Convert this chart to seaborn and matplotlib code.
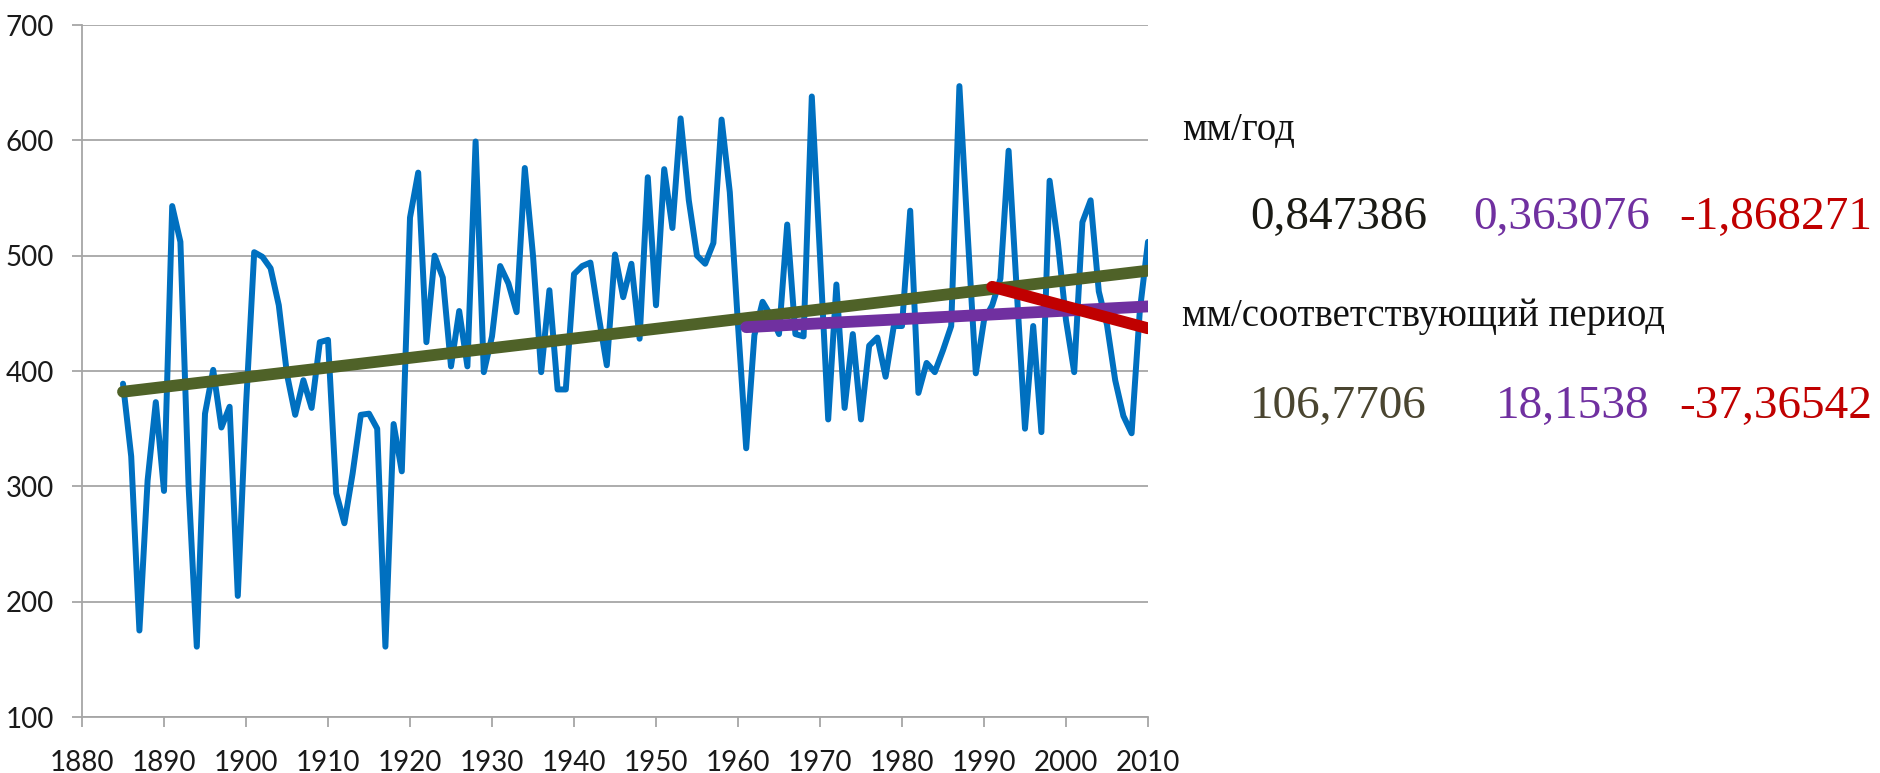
import numpy as np
import pandas as pd
import matplotlib
matplotlib.use("Agg")
import matplotlib.pyplot as plt
import seaborn as sns

# ---- data ----
years = list(range(1885, 2011))
precip = [
    389, 326, 175, 305, 373, 296, 543, 512, 300, 161,   # 1885-1894
    363, 401, 351, 369, 205, 370, 503, 499, 489, 457,   # 1895-1904
    397, 362, 392, 368, 425, 427, 294, 268, 311, 362,   # 1905-1914
    363, 350, 161, 354, 313, 533, 572, 425, 500, 481,   # 1915-1924
    404, 452, 404, 599, 399, 430, 491, 476, 451, 576,   # 1925-1934
    500, 399, 470, 384, 384, 484, 491, 494, 448, 405,   # 1935-1944
    501, 464, 493, 428, 568, 457, 575, 524, 619, 548,   # 1945-1954
    500, 493, 511, 618, 555, 440, 333, 431, 460, 448,   # 1955-1964
    432, 527, 432, 430, 638, 500, 358, 475, 368, 432,   # 1965-1974
    358, 422, 429, 395, 439, 439, 539, 381, 407, 399,   # 1975-1984
    418, 439, 647, 520, 398, 444, 457, 480, 591, 469,   # 1985-1994
    350, 439, 347, 565, 512, 444, 399, 529, 548, 469,   # 1995-2004
    440, 392, 361, 346, 452, 512,                       # 2005-2010
]

# linear trends (start year, end year, start value, end value)
trend_names = ["1885-2010", "1961-2010", "1991-2010"]
trend_start_years = [1885, 1961, 1991]
trend_end_years = [2010, 2010, 2010]
trend_start_vals = [382, 438, 473]
trend_end_vals = [487, 456, 437]

rate_labels = ["0,847386", "0,363076", "-1,868271"]
total_labels = ["106,7706", "18,1538", "-37,36542"]
header_rate = "мм/год"
header_total = "мм/соответствующий период"

x_ticks = list(range(1880, 2011, 10))
y_ticks = list(range(100, 701, 100))

# ---- styles ----
blue = "#0070C0"
trend_colors = ["#4F6228", "#7030A0", "#C00000"]
rate_text_colors = ["#1A1A14", "#7030A0", "#C00000"]
total_text_colors = ["#4A4530", "#7030A0", "#C00000"]
grid_col = "#A6A6A6"

sns.set_theme(style="white")
plt.rcParams["font.family"] = ["Lato", "DejaVu Sans"]

fig = plt.figure(figsize=(18.81, 7.73), dpi=100)
ax = fig.add_axes([82 / 1881, (773 - 717) / 773, (1148 - 82) / 1881, (717 - 25) / 773])

df = pd.DataFrame({"year": years, "value": precip})
sns.lineplot(data=df, x="year", y="value", ax=ax, color=blue, linewidth=4.3,
             solid_joinstyle="round", zorder=3)

for name, y0, y1, v0, v1, c in zip(trend_names, trend_start_years, trend_end_years,
                                     trend_start_vals, trend_end_vals, trend_colors):
    tdf = pd.DataFrame({"year": [y0, y1], "value": [v0, v1]})
    sns.lineplot(data=tdf, x="year", y="value", ax=ax, color=c, linewidth=8.5,
                 solid_capstyle="round", zorder=4)

ax.set_xlim(1880, 2010)
ax.set_ylim(100, 700)
ax.set_xticks(x_ticks)
ax.set_yticks(y_ticks)
ax.set_xlabel("")
ax.set_ylabel("")
ax.grid(axis="y", color=grid_col, linewidth=1.3)
ax.grid(axis="x", visible=False)
for s in ["top", "right"]:
    ax.spines[s].set_visible(False)
for s in ["left", "bottom"]:
    ax.spines[s].set_color(grid_col)
    ax.spines[s].set_linewidth(1.3)
ax.tick_params(axis="both", which="both", direction="out", length=7, width=1.3,
               color=grid_col, labelsize=20, labelcolor="#1a1a1a")
ax.tick_params(axis="x", pad=17, bottom=True)
ax.tick_params(axis="y", pad=13, left=True)
ax.set_facecolor("white")

# ---- right-hand annotations ----
serif = ["Liberation Serif", "DejaVu Serif"]
W, H = 1881, 773
def fx(px):
    return px / W
def fy(py):
    return 1 - py / H

fig.text(fx(1182), fy(140), header_rate, family=serif, fontsize=28, color="#111111",
         ha="left", va="baseline")
fig.text(fx(1182), fy(326), header_total, family=serif, fontsize=28, color="#111111",
         ha="left", va="baseline")
col_right = [1427, 1650, 1872]
for lab, c, xr in zip(rate_labels, rate_text_colors, col_right):
    fig.text(fx(xr), fy(229), lab, family=serif, fontsize=34, color=c,
             ha="right", va="baseline")
for lab, c, xr in zip(total_labels, total_text_colors, col_right):
    fig.text(fx(xr), fy(418), lab, family=serif, fontsize=34, color=c,
             ha="right", va="baseline")

fig.savefig("out.png", dpi=100, facecolor="white")
